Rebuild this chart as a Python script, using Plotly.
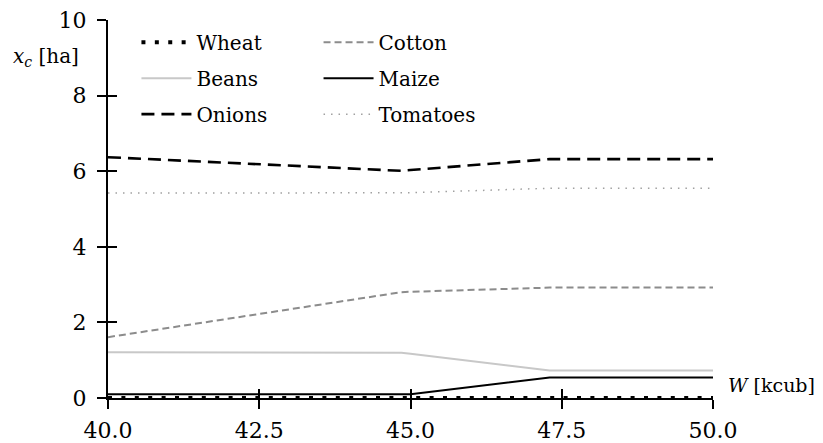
import plotly.graph_objects as go

# ---- data ----
W = [40.0, 44.85, 45.0, 47.3, 50.0]
wheat = [0.0, 0.0, 0.0, 0.0, 0.0]
beans = [1.21, 1.20, 1.17, 0.73, 0.73]
onions = [6.37, 6.01, 6.03, 6.32, 6.32]
cotton = [1.61, 2.80, 2.81, 2.92, 2.92]
maize = [0.10, 0.10, 0.10, 0.54, 0.54]
tomatoes = [5.42, 5.42, 5.43, 5.55, 5.55]

x_ticks = [40.0, 42.5, 45.0, 47.5, 50.0]
y_ticks = [0, 2, 4, 6, 8, 10]

FONT = "DejaVu Serif"

fig = go.Figure()

series = [
    ("Wheat", wheat, dict(color="black", width=4, dash="4px,9.4px"), "legend"),
    ("Beans", beans, dict(color="#c8c8c8", width=2), "legend"),
    ("Onions", onions, dict(color="black", width=2.6, dash="13px,7px"), "legend"),
    ("Cotton", cotton, dict(color="#8c8c8c", width=2, dash="7px,4px"), "legend2"),
    ("Maize", maize, dict(color="black", width=2), "legend2"),
    ("Tomatoes", tomatoes, dict(color="#a0a0a0", width=1.5, dash="1.5px,6px"), "legend2"),
]

for name, vals, line, leg in series:
    fig.add_trace(go.Scatter(
        x=W, y=vals, mode="lines", name=name, line=line,
        legend=leg, legendgroup=name, cliponaxis=False,
    ))

# invisible trace to carry the overlay axes (inside tick halves)
fig.add_trace(go.Scatter(x=W, y=wheat, xaxis="x2", yaxis="y2", mode="lines",
                         opacity=0, showlegend=False, hoverinfo="skip"))

axis_common = dict(showgrid=False, zeroline=False, tickcolor="black", automargin=False,
                   tickwidth=2, ticklen=9, tickfont=dict(family=FONT, size=22, color="black"))

# the page body adds an 8px offset; figure is sized so the plot area sits where the reference has it
fig.update_layout(
    width=815, height=435,
    margin=dict(l=100, r=110, t=12, b=45),
    paper_bgcolor="white", plot_bgcolor="white",
    font=dict(family=FONT, size=20, color="black"),
    xaxis=dict(range=[40, 50], tickvals=x_ticks, ticktext=[f"{v:.1f}" for v in x_ticks],
               ticks="outside", showline=True, linecolor="black", linewidth=2,
               ticklabelstandoff=3, ticklabeloverflow="allow", **axis_common),
    yaxis=dict(range=[0, 10], tickvals=y_ticks, ticks="outside", showline=True,
               linecolor="black", linewidth=2, ticklabelstandoff=6,
               ticklabeloverflow="allow", **axis_common),
    xaxis2=dict(range=[40, 50], tickvals=x_ticks, ticks="inside", overlaying="x",
                anchor="y2", side="bottom", showticklabels=False, showline=False,
                **axis_common),
    yaxis2=dict(range=[0, 10], tickvals=y_ticks, ticks="inside", overlaying="y",
                anchor="x2", side="left", showticklabels=False, showline=False,
                **axis_common),
    legend=dict(x=0.047, y=0.993, xanchor="left", yanchor="top", bgcolor="rgba(0,0,0,0)",
                tracegroupgap=7, itemwidth=50, font=dict(family=FONT, size=20)),
    legend2=dict(x=0.348, y=0.993, xanchor="left", yanchor="top", bgcolor="rgba(0,0,0,0)",
                 tracegroupgap=7, itemwidth=50, font=dict(family=FONT, size=20)),
    showlegend=True,
    annotations=[
        dict(text="<i>W</i> [kcub]", xref="paper", yref="paper", x=1.022, y=0.034,
             xanchor="left", yanchor="middle", showarrow=False,
             font=dict(family=FONT, size=19, color="black")),
        dict(text="<i>x<sub>c</sub></i> [ha]", xref="paper", yref="paper", x=-0.16, y=0.902,
             xanchor="left", yanchor="middle", showarrow=False,
             font=dict(family=FONT, size=20, color="black")),
    ],
)

fig.write_html("out.html")
